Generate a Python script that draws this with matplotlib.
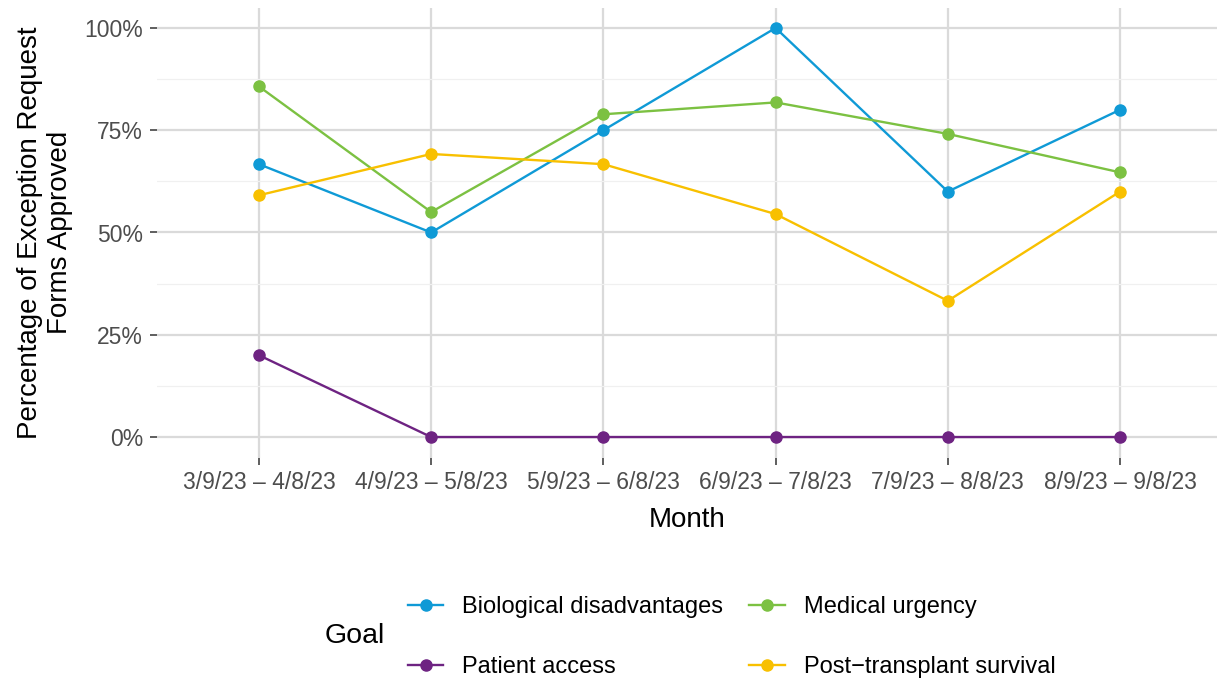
import matplotlib
matplotlib.use("Agg")
import matplotlib.pyplot as plt
from matplotlib.lines import Line2D
from matplotlib.ticker import FixedLocator, PercentFormatter

plt.rcParams["font.family"] = ["Liberation Sans", "DejaVu Sans"]

# data
months = ["3/9/23 – 4/8/23", "4/9/23 – 5/8/23", "5/9/23 – 6/8/23",
          "6/9/23 – 7/8/23", "7/9/23 – 8/8/23", "8/9/23 – 9/8/23"]
goals = ["Biological disadvantages", "Patient access",
         "Medical urgency", "Post−transplant survival"]
bio = [66.7, 50.0, 75.0, 100.0, 60.0, 80.0]
patient = [20.0, 0.0, 0.0, 0.0, 0.0, 0.0]
medical = [85.7, 55.0, 78.9, 81.8, 74.1, 64.7]
post = [59.1, 69.2, 66.7, 54.5, 33.3, 60.0]
colors = ["#0F9AD6", "#6E2382", "#7CC142", "#F8C000"]
series = [bio, patient, medical, post]

fig = plt.figure(figsize=(12.17, 6.81), dpi=100)
ax = fig.add_axes([157 / 1217, 1 - 457.5 / 681, 1060 / 1217, 450 / 681])

x = list(range(len(months)))
# draw order: bio, medical, patient, post (as in reference overlap)
for idx in [0, 2, 1, 3]:
    ax.plot(x, series[idx], color=colors[idx], lw=1.7, marker="o",
            markersize=8, zorder=3)

ax.set_xlim(-0.592, 5.563)
ax.set_ylim(-5, 105)
ax.set_xticks(x)
ax.set_xticklabels(months)
ax.yaxis.set_major_locator(FixedLocator([0, 25, 50, 75, 100]))
ax.yaxis.set_minor_locator(FixedLocator([12.5, 37.5, 62.5, 87.5]))
ax.yaxis.set_major_formatter(PercentFormatter(decimals=0))

ax.grid(which="major", color="#DADADA", lw=1.6, zorder=0)
ax.grid(which="minor", axis="y", color="#F0F0F0", lw=0.9, zorder=0)
ax.set_axisbelow(True)
for s in ax.spines.values():
    s.set_visible(False)
ax.tick_params(axis="both", which="major", length=5, width=1.1, color="#333333",
               labelcolor="#4D4D4D", labelsize=16.5, pad=5)
ax.tick_params(axis="y", which="minor", length=0)

ax.set_xlabel("Month", fontsize=20, labelpad=9)
ax.set_ylabel("Percentage of Exception Request\nForms Approved",
              fontsize=20, labelpad=8, linespacing=1.2)

handles = [Line2D([], [], color=c, lw=1.7, marker="o", markersize=8)
           for c in colors]
fig.legend(handles, goals, loc="center left", bbox_to_anchor=(408 / 1217, 1 - 637 / 681),
           ncol=2, frameon=False, fontsize=17, labelspacing=1.6,
           handlelength=1.5, handletextpad=0.8, columnspacing=1.1,
           borderaxespad=0, borderpad=0)
fig.text(325 / 1217, 1 - 636 / 681, "Goal", fontsize=20.5, va="center", ha="left")

fig.savefig("out.png", dpi=100)
